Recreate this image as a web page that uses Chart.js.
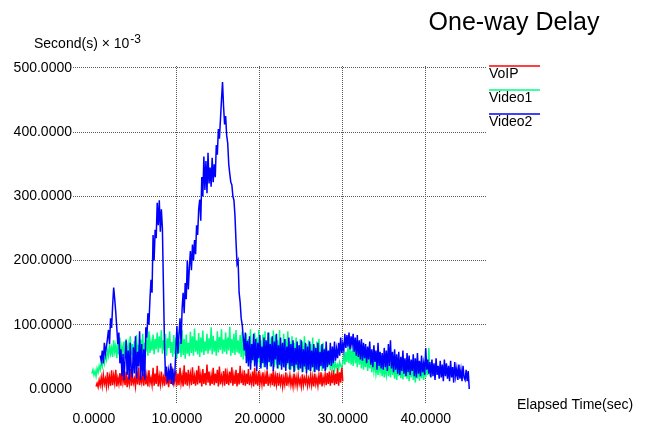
<!DOCTYPE html>
<html>
<head>
<meta charset="utf-8">
<title>One-way Delay</title>
<script src="https://cdn.jsdelivr.net/npm/chart.js@4/dist/chart.umd.min.js"></script>
<style>
    html, body { margin: 0; padding: 0; background: #fff; }
    #wrap { width: 646px; height: 430px; position: relative; }
</style>
</head>
<body>
<div id="wrap"><canvas id="delayChart" width="646" height="430"></canvas></div>
<script>
// Sample spacing of every series (seconds)
const step = 0.125;

// VoIP delay, starts at t = 0.25s (one row = 2 seconds)
const voipStart = 0.25;
const voipDelay = [
    4, 9, 3, 14, 6, 18, 5, 22, 8, 16, 4, 26, 7, 19, 5, 29,
    6, 21, 9, 30, 4, 17, 8, 25, 5, 33, 10, 20, 6, 27, 3, 18,
    8, 31, 5, 22, 9, 16, 4, 28, 7, 34, 6, 19, 10, 25, 5, 30,
    7, 21, 4, 29, 9, 17, 6, 33, 5, 24, 8, 36, 4, 20, 7, 27,
    9, 18, 5, 31, 7, 25, 3, 22, 8, 35, 6, 19, 10, 28, 5, 24,
    6, 33, 9, 21, 4, 37, 7, 26, 5, 30, 10, 23, 6, 34, 8, 20,
    5, 29, 7, 36, 9, 22, 4, 31, 8, 25, 6, 38, 10, 27, 5, 21,
    8, 33, 6, 24, 9, 30, 4, 35, 7, 20, 10, 28, 5, 32, 8, 23,
    6, 27, 9, 34, 5, 21, 8, 30, 4, 25, 7, 36, 9, 22, 6, 29,
    5, 24, 8, 31, 6, 19, 9, 27, 4, 33, 7, 22, 5, 28, 8, 20,
    7, 26, 4, 21, 8, 29, 5, 18, 9, 24, 6, 30, 4, 20, 7, 25,
    5, 19, 8, 23, 4, 17, 7, 26, 5, 18, 9, 22, 6, 16, 4, 24,
    7, 18, 5, 21, 8, 15, 4, 23, 6, 17, 9, 20, 5, 16, 7, 22,
    6, 19, 4, 24, 8, 17, 5, 22, 7, 26, 4, 18, 9, 23, 6, 25,
    8, 27, 5, 22, 9, 30, 6, 24, 8, 33, 5, 26, 10, 35, 12
];

// Video1 delay, starts at t = -0.25s
const video1Start = -0.25;
const video1Delay = [
    24, 30, 22, 28, 20, 32, 26, 36, 30, 42, 35, 48, 40, 55, 46, 60,
    52, 70, 55, 64, 50, 76, 58, 68, 48, 72, 54, 80, 50, 66, 56, 74,
    47, 78, 55, 68, 50, 82, 53, 70, 46, 75, 57, 84, 52, 69, 48, 77,
    55, 86, 50, 72, 58, 80, 52, 90, 56, 74, 60, 85, 54, 78, 62, 88,
    57, 82, 63, 92, 55, 76, 60, 86, 52, 79, 64, 90, 56, 73, 50, 84,
    54, 80, 48, 88, 56, 74, 50, 92, 53, 78, 47, 85, 55, 72, 51, 89,
    56, 82, 52, 94, 58, 76, 54, 87, 50, 80, 57, 91, 53, 74, 59, 86,
    55, 79, 60, 96, 54, 83, 58, 75, 52, 90, 57, 81, 61, 93, 55, 77,
    58, 88, 54, 80, 60, 97, 52, 78, 56, 86, 53, 92, 57, 76, 55, 84,
    50, 90, 46, 72, 52, 86, 42, 78, 48, 93, 40, 70, 45, 88, 38, 80,
    42, 92, 36, 76, 40, 85, 34, 90, 38, 74, 41, 88, 35, 80, 39, 91,
    34, 84, 38, 76, 32, 92, 36, 70, 40, 86, 33, 78, 37, 90, 31, 74,
    30, 82, 34, 72, 28, 80, 33, 68, 29, 78, 32, 74, 27, 82, 31, 70,
    30, 76, 28, 70, 33, 80, 27, 66, 31, 74, 29, 78, 34, 68, 28, 72,
    32, 64, 30, 56, 35, 60, 29, 48, 33, 44, 30, 40, 34, 38, 31, 42,
    36, 34, 40, 52, 38, 58, 42, 66, 40, 74, 38, 60, 36, 76, 40, 58,
    34, 70, 38, 56, 32, 66, 30, 52, 34, 60, 28, 48, 32, 54, 26, 46,
    28, 42, 24, 38, 22, 44, 26, 36, 20, 40, 18, 34, 22, 46, 20, 38,
    18, 48, 22, 36, 16, 44, 14, 38, 20, 46, 17, 34, 15, 42, 19, 40,
    16, 44, 12, 36, 18, 40, 14, 34, 10, 46, 16, 38, 13, 42, 17, 36,
    14, 32, 18, 40, 22, 64, 20
];

// Video2 delay, starts at t = 0.75s
const video2Start = 0.75;
const video2Delay = [
    52, 44, 60, 40, 72, 55, 66, 78, 92, 70, 110, 95, 130, 158, 140, 120,
    95, 70, 88, 40, 62, 20, 55, 14, 48, 76, 22, 60, 15, 72, 30, 18,
    65, 24, 82, 16, 58, 35, 90, 14, 70, 20, 62, 15, 96, 80, 118, 100,
    140, 170, 150, 240, 200, 248, 235, 290, 255, 294, 245, 280, 250, 160, 70, 20,
    35, 10, 28, 14, 40, 8, 32, 12, 25, 60, 98, 55, 85, 110, 70, 125,
    150, 118, 165, 140, 200, 155, 190, 215, 185, 225, 200, 232, 210, 255, 240, 280,
    295, 262, 330, 300, 362, 310, 355, 305, 368, 320, 345, 315, 360, 322, 350, 330,
    380, 365, 405, 390, 420, 450, 478, 440, 412, 425, 395, 383, 350, 335, 322, 318,
    300, 294, 270, 230, 195, 200, 150, 135, 110, 100, 80, 60, 88, 40, 75, 35,
    82, 30, 70, 45, 86, 35, 78, 28, 72, 48, 84, 32, 66, 40, 80, 34,
    76, 30, 88, 42, 70, 35, 82, 28, 74, 46, 86, 32, 68, 38, 80, 30,
    72, 34, 78, 28, 66, 40, 80, 30, 70, 36, 76, 26, 64, 38, 74, 30,
    68, 32, 76, 26, 62, 35, 72, 24, 66, 30, 74, 28, 60, 34, 70, 26,
    64, 30, 72, 28, 58, 36, 70, 32, 62, 28, 74, 34, 60, 38, 72, 36,
    66, 40, 74, 44, 62, 48, 72, 52, 80, 56, 70, 60, 86, 64, 84, 66,
    88, 62, 82, 68, 86, 58, 80, 52, 84, 50, 76, 46, 78, 44, 72, 48,
    70, 40, 66, 46, 74, 38, 62, 34, 68, 42, 60, 30, 72, 36, 58, 32,
    56, 30, 64, 34, 60, 28, 70, 36, 76, 32, 58, 26, 62, 30, 54, 24,
    58, 22, 50, 28, 60, 24, 48, 20, 56, 26, 52, 22, 46, 28, 54, 20,
    48, 18, 56, 24, 44, 20, 52, 26, 40, 22, 64, 30, 46, 24, 42, 18,
    46, 20, 40, 14, 48, 22, 36, 16, 44, 18, 38, 12, 46, 20, 40, 16,
    36, 12, 44, 18, 34, 10, 42, 20, 32, 14, 38, 16, 30, 12, 36, 18,
    14, 30, 12, 28, 0
];

// Axis ticks
const xTicks = [0, 10, 20, 30, 40];
const yTicks = [0, 100, 200, 300, 400, 500];

const seriesNames = ['VoIP', 'Video1', 'Video2'];
const seriesColors = ['#ff0000', '#00ff80', '#0000ff'];

const FONT = '"Liberation Sans", Arial, sans-serif';

// Turn a value list into {x, y} points
function toPoints(values, start) {
    return values.map((v, i) => ({ x: start + i * step, y: v }));
}

// Title, axis captions and legend drawn on top of the chart
const captionPlugin = {
    id: 'captions',
    afterDraw(chart) {
        const ctx = chart.ctx;
        ctx.save();
        ctx.fillStyle = '#000';

        // title
        ctx.font = '25px ' + FONT;
        ctx.textAlign = 'center';
        ctx.textBaseline = 'middle';
        ctx.fillText('One-way Delay', 514, 23);

        // y axis caption with superscript
        ctx.textAlign = 'left';
        ctx.textBaseline = 'alphabetic';
        ctx.font = '14px ' + FONT;
        const yCaption = 'Second(s) \u00d7 10';
        ctx.fillText(yCaption, 34, 48);
        const w = ctx.measureText(yCaption).width;
        ctx.font = '12px ' + FONT;
        ctx.fillText('-3', 34 + w + 1, 43);

        // x axis caption
        ctx.font = '14px ' + FONT;
        ctx.textBaseline = 'middle';
        ctx.fillText('Elapsed Time(sec)', 517, 405);

        // legend: coloured line above each name
        seriesNames.forEach((name, i) => {
            const y = 66 + i * 24;
            ctx.strokeStyle = seriesColors[i];
            ctx.lineWidth = 1.5;
            ctx.beginPath();
            ctx.moveTo(489, y);
            ctx.lineTo(540, y);
            ctx.stroke();
            ctx.fillText(name, 489, y + 8);
        });
        ctx.restore();
    }
};

// no grid line at the zero ticks
const gridColor = (c) => (c.tick && c.tick.value === 0 ? 'rgba(0,0,0,0)' : '#555');

const chart = new Chart(document.getElementById('delayChart'), {
    type: 'line',
    data: {
        datasets: [
            {
                label: seriesNames[0],
                data: toPoints(voipDelay, voipStart),
                borderColor: seriesColors[0],
                order: 2
            },
            {
                label: seriesNames[1],
                data: toPoints(video1Delay, video1Start),
                borderColor: seriesColors[1],
                order: 1
            },
            {
                label: seriesNames[2],
                data: toPoints(video2Delay, video2Start),
                borderColor: seriesColors[2],
                order: 0
            }
        ]
    },
    options: {
        responsive: false,
        animation: false,
        devicePixelRatio: 1,
        layout: { padding: { left: 0, right: 159, top: 66, bottom: 0 } },
        elements: {
            point: { radius: 0 },
            line: { borderWidth: 1.5, tension: 0, fill: false }
        },
        plugins: {
            legend: { display: false },
            tooltip: { enabled: false },
            title: { display: false }
        },
        scales: {
            x: {
                type: 'linear',
                min: -2.53,
                max: 47.39,
                afterBuildTicks: (s) => { s.ticks = xTicks.map(v => ({ value: v })); },
                afterFit: (s) => { s.height = 27; },
                border: { display: false, dash: [1, 1] },
                grid: { color: gridColor, drawTicks: false, lineWidth: 1 },
                ticks: {
                    padding: 8,
                    color: '#000',
                    font: { family: FONT, size: 14 },
                    maxRotation: 0,
                    callback: (v) => Number(v).toFixed(4)
                }
            },
            y: {
                type: 'linear',
                min: -21.8,
                max: 503.1,
                afterBuildTicks: (s) => { s.ticks = yTicks.map(v => ({ value: v })); },
                afterFit: (s) => { s.width = 73; },
                border: { display: false, dash: [1, 1] },
                grid: { color: gridColor, drawTicks: false, lineWidth: 1 },
                ticks: {
                    padding: 1,
                    color: '#000',
                    font: { family: FONT, size: 14 },
                    callback: (v) => Number(v).toFixed(4)
                }
            }
        }
    },
    plugins: [captionPlugin]
});
</script>
</body>
</html>
